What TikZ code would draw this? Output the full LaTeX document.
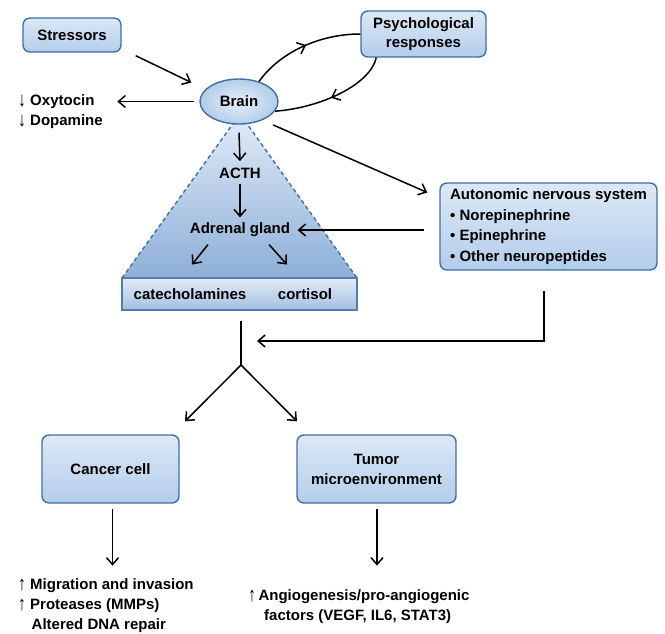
\documentclass[tikz,border=0pt]{standalone}
\usepackage{fontspec}
\setmainfont{Liberation Sans}
\usetikzlibrary{arrows.meta,shapes.geometric,calc,decorations.markings}
\definecolor{bord}{HTML}{3F6FA6}
\definecolor{boxtop}{HTML}{DDE8F5}
\definecolor{boxbot}{HTML}{B3CDEA}
\definecolor{tritop}{HTML}{E2EBF7}
\definecolor{tribot}{HTML}{8DAFD8}
\definecolor{recttop}{HTML}{E3ECF7}
\definecolor{rectbot}{HTML}{A3BFE1}
\newcommand{\arw}[1]{{\mdseries\raisebox{-1pt}[0.75em][0pt]{\scalebox{1.05}[1.35]{#1}}}}
\begin{document}
\begin{tikzpicture}[x=1pt,y=-1pt,
  font=\fontsize{15}{20}\selectfont\bfseries,
  arr/.style={-{Straight Barb[length=7pt,width=12pt]}, line width=1.5pt},
  midarr/.style={line width=1.5pt, decoration={markings, mark=at position 0.52 with {\arrow{Straight Barb[length=7pt,width=12pt]}}}, postaction={decorate}},
  bluebox/.style={draw=bord, line width=1.4pt, rounded corners=7pt, top color=boxtop, bottom color=boxbot, align=center},
  plain/.style={inner sep=0pt, align=left}]
\useasboundingbox (0,0) rectangle (665,633);

% triangle
\path[top color=tritop, bottom color=tribot] (240,114) -- (357,278) -- (122,278) -- cycle;
\draw[bord, line width=1.4pt, dash pattern=on 4pt off 3pt] (122,278) -- (240,114) -- (357,278);
\node[draw=bord!90, line width=1.1pt, top color=recttop, bottom color=rectbot, minimum width=235pt, minimum height=32pt, inner sep=0pt] (rect) at (239.5,294) {};
\node (cat) at (190,294) {catecholamines};
\node (cort) at (305,294) {cortisol};

% nodes
\node[bluebox, minimum width=98pt, minimum height=34pt] (stress) at (72,35) {Stressors};
\node[bluebox, minimum width=125pt, minimum height=46pt, inner sep=2pt] (psych) at (423.5,34) {Psychological\\[-1pt]responses};
\node[ellipse, draw=bord, line width=1.4pt, shading=radial, inner color=boxtop!70!white, outer color=boxbot, minimum width=78pt, minimum height=45pt, inner sep=0pt] (brain) at (239,101.5) {Brain};
\node[plain, anchor=west] (oxy) at (18,111) {\arw{↓} Oxytocin\\\arw{↓} Dopamine};
\node (acth) at (240,173) {ACTH};
\node (adrenal) at (240,230) {Adrenal gland};
\node[bluebox, minimum width=217pt, minimum height=87pt, align=left, inner sep=2pt] (ans) at (548.5,226.5) {Autonomic nervous system\\[0.5pt]• Norepinephrine\\[0.5pt]• Epinephrine\\[0.5pt]• Other neuropeptides};
\node[bluebox, minimum width=137pt, minimum height=68pt] (cancer) at (110.5,469) {Cancer cell};
\node[bluebox, minimum width=159pt, minimum height=68pt] (tumor) at (376.5,469) {Tumor\\microenvironment};
\node[plain, anchor=west] (cout) at (18,605) {\arw{↑} Migration and invasion\\\arw{↑} Proteases (MMPs)\\\hspace*{13.5pt}Altered DNA repair};
\node[plain, anchor=west] (tout) at (248,606) {\arw{↑}\hspace{2.5pt}Angiogenesis/pro-angiogenic\\\hspace*{16pt}factors (VEGF, IL6, STAT3)};

\coordinate (split) at (241,365);

% connectors
\draw[arr] ($(stress.south east)+(14,3)$) -- ($(brain.west)+(-8,-19)$);
\draw[arr] ($(brain.west)+(-5,0)$) -- ($(brain.west)+(-82,0)$);
\draw[midarr] (brain.45) .. controls (280,52) and (320,34) .. (psych.west);
\draw[midarr] ($(psych.south west)+(16,0)$) .. controls (370,85) and (320,108) .. (brain.-15);
\draw[arr] ($(brain.south)+(0,8)$) -- ($(acth.north)+(0,-3)$);
\draw[arr] ($(acth.south)+(0,2)$) -- ($(adrenal.north)+(0,-2)$);
\draw[arr] ($(adrenal.south)+(-32,4)$) -- ($(adrenal.south)+(-48,24)$);
\draw[arr] ($(adrenal.south)+(29,4)$) -- ($(adrenal.south)+(47,24)$);
\draw[arr] ($(brain.south east)+(6,7)$) -- ($(ans.west)+(-12,-34)$);
\draw[arr] ($(ans.west)+(-15,3.5)$) -- ($(adrenal.east)+(4,0)$);
\draw[arr] ($(ans.south)+(-4.5,20)$) |- ($(split)+(16,-24)$);
\draw[line width=1.5pt] ($(rect.south)+(1.5,10)$) -- (split);
\draw[arr] (split) -- ($(cancer.north)+(74.5,-13)$);
\draw[arr] (split) -- ($(tumor.north)+(-79.5,-13)$);
\draw[arr] ($(cancer.south)+(2,5)$) -- ($(cancer.south)+(2,62)$);
\draw[arr] ($(tumor.south)+(0.5,5)$) -- ($(tumor.south)+(0.5,62)$);
\end{tikzpicture}
\end{document}
